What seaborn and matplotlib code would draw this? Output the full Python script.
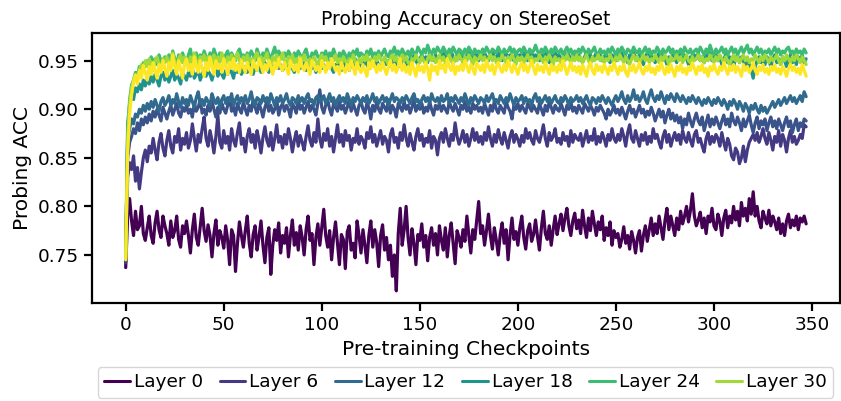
import numpy as np
import pandas as pd
import matplotlib
matplotlib.use("Agg")
import matplotlib.pyplot as plt
from matplotlib.lines import Line2D
import seaborn as sns

# Probing accuracy (in thousandths) per checkpoint
LAYERS = [0, 6, 9, 12, 18, 24, 30, 35]
LEGEND_LAYERS = [0, 6, 12, 18, 24, 30]

ACC_L0 = [
    737,
    790, 808, 785, 770, 795, 776, 780, 800, 772, 765, 778, 790, 770, 762, 783, 795, 776, 768, 790, 780,
    772, 760, 785, 768, 775, 790, 766, 758, 780, 772, 785, 770, 752, 776, 792, 768, 760, 779, 798, 775,
    764, 781, 770, 748, 772, 786, 760, 775, 768, 757, 780, 765, 740, 776, 770, 733, 762, 784, 770, 758,
    775, 790, 762, 748, 771, 780, 755, 769, 785, 760, 742, 768, 778, 730, 760, 776, 765, 783, 752, 770,
    762, 778, 748, 770, 786, 760, 773, 755, 780, 768, 750, 776, 790, 765, 772, 740, 768, 782, 760, 778,
    797, 770, 758, 775, 745, 768, 784, 762, 740, 771, 766, 736, 774, 780, 755, 762, 747, 785, 770, 752,
    776, 760, 742, 770, 785, 758, 776, 763, 738, 770, 781, 755, 768, 745, 760, 728, 750, 713, 772, 798,
    760, 776, 800, 768, 750, 777, 762, 740, 771, 765, 782, 758, 770, 744, 768, 778, 760, 772, 750, 780,
    765, 755, 778, 748, 770, 783, 762, 741, 775, 768, 758, 776, 764, 790, 770, 752, 776, 766, 785, 805,
    772, 780, 760, 775, 792, 770, 756, 778, 765, 750, 771, 783, 762, 776, 745, 770, 788, 766, 774, 760,
    778, 790, 768, 756, 775, 782, 764, 771, 786, 769, 755, 778, 795, 772, 766, 780, 760, 776, 790, 771,
    782, 792, 775, 788, 798, 780, 770, 785, 793, 777, 786, 772, 796, 780, 768, 788, 775, 795, 782, 770,
    784, 776, 790, 765, 778, 770, 784, 760, 775, 768, 772, 758, 766, 779, 762, 770, 756, 774, 765, 752,
    768, 775, 754, 770, 780, 764, 776, 788, 770, 782, 772, 790, 778, 766, 785, 798, 776, 790, 780, 770,
    788, 776, 795, 782, 790, 800, 784, 796, 813, 790, 780, 786, 794, 778, 788, 772, 790, 784, 798, 780,
    776, 792, 785, 770, 788, 796, 778, 790, 783, 800, 786, 795, 780, 804, 790, 798, 785, 808, 792, 815,
    790, 800, 785, 778, 795, 788, 782, 796, 780, 790, 784, 776, 788, 772, 782, 770, 785, 792, 778, 786,
    780, 790, 776, 788, 784, 790, 782,
]

ACC_L6 = [
    742,
    830, 845, 838, 852, 826, 840, 818, 835, 850, 858, 846, 862, 855, 870, 858, 848, 866, 875, 860, 852,
    868, 878, 862, 855, 872, 866, 880, 858, 870, 864, 876, 860, 868, 885, 870, 857, 874, 866, 880, 892,
    870, 862, 878, 868, 855, 872, 894, 866, 860, 878, 865, 872, 858, 880, 868, 862, 876, 886, 864, 870,
    856, 872, 880, 866, 874, 860, 878, 868, 855, 871, 882, 868, 862, 876, 858, 870, 884, 866, 872, 860,
    874, 864, 880, 870, 856, 868, 877, 862, 873, 866, 858, 872, 883, 868, 862, 876, 866, 890, 870, 861,
    875, 868, 880, 862, 872, 856, 870, 884, 866, 874, 862, 878, 868, 873, 858, 870, 866, 880, 864, 872,
    868, 860, 876, 870, 882, 866, 874, 862, 870, 878, 864, 872, 868, 856, 874, 880, 866, 871, 860, 876,
    868, 884, 870, 862, 875, 866, 858, 872, 880, 868, 874, 862, 870, 866, 878, 860, 872, 868, 853, 870,
    876, 866, 880, 870, 862, 874, 868, 886, 872, 864, 870, 878, 866, 874, 862, 870, 880, 868, 876, 866,
    872, 864, 876, 868, 882, 870, 862, 874, 866, 879, 870, 864, 876, 868, 860, 872, 878, 866, 874, 869,
    862, 873, 866, 880, 870, 876, 868, 864, 878, 870, 866, 874, 884, 870, 862, 876, 868, 872, 880, 866,
    870, 864, 876, 868, 872, 862, 878, 866, 874, 870, 868, 875, 862, 870, 878, 866, 872, 868, 880, 864,
    872, 866, 876, 870, 862, 874, 868, 880, 870, 866, 874, 868, 880, 872, 862, 876, 884, 870, 866, 878,
    870, 862, 874, 868, 876, 864, 872, 866, 880, 870, 874, 866, 860, 872, 878, 866, 874, 862, 870, 876,
    868, 874, 864, 878, 870, 866, 876, 868, 862, 874, 878, 866, 870, 862, 856, 870, 876, 864, 872, 866,
    874, 870, 862, 876, 866, 858, 870, 864, 852, 848, 860, 856, 844, 850, 862, 846, 858, 866, 870, 874,
    868, 876, 866, 872, 880, 870, 864, 876, 868, 858, 872, 866, 878, 862, 874, 868, 856, 870, 878, 866,
    872, 864, 868, 874, 870, 884, 882,
]

ACC_L9 = [
    745,
    850, 866, 872, 880, 875, 886, 878, 890, 884, 892, 886, 895, 888, 898, 892, 900, 894, 888, 902, 896,
    890, 898, 904, 894, 900, 906, 896, 892, 902, 898, 904, 896, 900, 892, 906, 898, 902, 910, 896, 900,
    894, 904, 898, 908, 900, 892, 902, 896, 906, 900, 896, 904, 912, 898, 902, 894, 906, 900, 896, 908,
    900, 894, 904, 898, 910, 902, 896, 906, 900, 892, 902, 908, 898, 904, 896, 900, 910, 894, 902, 906,
    898, 904, 900, 892, 906, 902, 896, 910, 900, 904, 896, 902, 908, 898, 904, 900, 894, 906, 920, 902,
    896, 904, 910, 900, 894, 906, 902, 898, 908, 900, 904, 896, 902, 910, 898, 906, 900, 894, 904, 908,
    900, 896, 906, 902, 890, 904, 898, 908, 900, 896, 906, 902, 898, 910, 896, 904, 900, 892, 906, 902,
    898, 908, 900, 904, 896, 902, 910, 898, 904, 900, 906, 896, 902, 898, 908, 900, 894, 904, 900, 906,
    898, 904, 900, 896, 908, 902, 898, 906, 900, 894, 904, 900, 908, 898, 902, 896, 906, 900, 904, 898,
    902, 896, 906, 900, 894, 904, 898, 908, 900, 896, 904, 900, 896, 908, 902, 898, 890, 904, 900, 906,
    898, 904, 900, 896, 906, 902, 898, 904, 900, 896, 906, 900, 894, 904, 898, 908, 902, 896, 904, 900,
    898, 906, 900, 894, 904, 900, 908, 898, 902, 896, 904, 900, 896, 906, 902, 898, 904, 900, 894, 902,
    898, 904, 900, 896, 890, 900, 894, 898, 904, 896, 900, 894, 902, 896, 890, 898, 904, 896, 900, 892,
    898, 904, 896, 900, 892, 898, 894, 902, 896, 888, 894, 900, 892, 898, 886, 894, 900, 890, 896, 888,
    894, 886, 892, 880, 890, 884, 896, 888, 882, 890, 896, 888, 884, 892, 878, 886, 894, 882, 890, 884,
    892, 886, 880, 888, 894, 884, 890, 882, 896, 888, 884, 892, 886, 878, 890, 882, 888, 894, 884, 876,
    886, 892, 880, 888, 884, 890, 878, 886, 892, 882, 888, 880, 890, 884, 878, 886, 892, 882, 888, 876,
    884, 890, 878, 886, 882, 890, 888,
]

ACC_L12 = [
    748,
    868, 880, 890, 885, 895, 892, 900, 896, 904, 898, 906, 900, 908, 902, 910, 904, 898, 908, 912, 904,
    908, 914, 904, 910, 906, 916, 908, 902, 912, 906, 910, 904, 914, 908, 902, 912, 918, 906, 910, 904,
    912, 908, 904, 916, 910, 906, 912, 902, 910, 914, 906, 912, 908, 916, 904, 910, 914, 906, 912, 908,
    914, 906, 910, 918, 908, 904, 912, 910, 906, 914, 908, 912, 906, 916, 910, 904, 912, 908, 914, 906,
    910, 916, 908, 904, 912, 910, 906, 914, 908, 912, 906, 912, 916, 908, 910, 904, 912, 914, 908, 910,
    914, 906, 910, 916, 908, 912, 904, 910, 914, 908, 912, 906, 916, 910, 904, 912, 908, 914, 910, 906,
    912, 908, 914, 906, 910, 916, 908, 912, 906, 910, 914, 908, 912, 904, 910, 916, 908, 912, 910, 906,
    912, 908, 914, 910, 906, 912, 916, 908, 910, 904, 910, 914, 908, 912, 906, 916, 910, 908, 912, 906,
    914, 908, 910, 916, 906, 912, 908, 914, 910, 906, 912, 908, 916, 910, 904, 912, 908, 914, 910, 906,
    912, 910, 906, 914, 908, 912, 916, 908, 910, 906, 914, 910, 906, 912, 908, 916, 910, 904, 912, 908,
    910, 914, 906, 912, 908, 910, 904, 912, 916, 908, 912, 906, 910, 914, 908, 912, 906, 910, 914, 908,
    906, 912, 908, 914, 910, 904, 912, 908, 910, 914, 908, 912, 906, 910, 914, 908, 904, 912, 910, 906,
    912, 908, 914, 910, 906, 912, 908, 904, 910, 914, 908, 912, 918, 910, 906, 914, 908, 912, 920, 910,
    914, 908, 912, 918, 910, 906, 914, 920, 912, 908, 914, 910, 918, 912, 906, 914, 910, 916, 912, 908,
    916, 912, 908, 914, 910, 906, 912, 908, 914, 910, 906, 912, 908, 904, 910, 906, 912, 908, 904, 910,
    906, 912, 908, 904, 910, 906, 900, 908, 904, 910, 906, 900, 908, 904, 898, 906, 902, 896, 904, 900,
    906, 900, 896, 904, 898, 902, 896, 900, 904, 908, 902, 906, 910, 904, 908, 912, 906, 910, 914, 908,
    912, 906, 910, 914, 908, 918, 913,
]

ACC_L18 = [
    750,
    885, 905, 915, 910, 922, 918, 926, 920, 930, 924, 932, 926, 934, 928, 936, 930, 924, 934, 938, 930,
    936, 928, 934, 940, 930, 936, 932, 926, 938, 934, 930, 938, 934, 942, 932, 936, 940, 930, 936, 942,
    934, 940, 936, 930, 938, 944, 934, 940, 936, 932, 940, 936, 944, 938, 932, 942, 938, 946, 936, 940,
    944, 938, 942, 948, 936, 944, 940, 946, 938, 942, 948, 942, 938, 946, 940, 944, 950, 942, 946, 940,
    944, 948, 940, 946, 942, 938, 946, 950, 942, 944, 948, 940, 944, 950, 942, 946, 938, 944, 948, 942,
    946, 940, 944, 950, 942, 938, 946, 944, 948, 940, 944, 950, 946, 940, 948, 944, 952, 946, 942, 948,
    944, 950, 946, 942, 948, 952, 944, 950, 946, 942, 948, 952, 946, 950, 944, 948, 954, 946, 950, 944,
    950, 954, 948, 944, 952, 948, 956, 950, 946, 952, 956, 950, 954, 948, 958, 952, 950, 956, 952, 948,
    954, 958, 950, 956, 952, 960, 954, 950, 956, 952, 958, 954, 950, 956, 960, 952, 956, 954, 958, 950,
    956, 952, 958, 954, 950, 956, 960, 954, 952, 958, 954, 950, 956, 958, 952, 956, 954, 950, 958, 954,
    956, 952, 958, 954, 950, 956, 960, 952, 956, 954, 950, 956, 952, 958, 954, 948, 956, 952, 958, 954,
    956, 950, 954, 958, 952, 956, 950, 954, 958, 952, 956, 952, 948, 954, 958, 952, 956, 950, 954, 958,
    952, 956, 950, 954, 958, 952, 948, 956, 954, 950, 956, 952, 958, 950, 954, 948, 956, 952, 958, 954,
    950, 956, 952, 946, 954, 958, 950, 956, 952, 948, 954, 958, 950, 956, 952, 946, 954, 950, 956, 952,
    948, 954, 958, 950, 956, 952, 946, 954, 950, 956, 952, 958, 950, 954, 948, 956, 952, 958, 950, 954,
    956, 950, 954, 946, 952, 956, 948, 954, 950, 944, 952, 956, 948, 954, 950, 944, 952, 946, 940, 932,
    944, 950, 954, 948, 952, 946, 954, 950, 944, 952, 956, 948, 952, 946, 954, 950, 944, 952, 956, 948,
    952, 946, 954, 950, 956, 948, 952,
]

ACC_L24 = [
    748,
    875, 910, 925, 930, 938, 934, 944, 940, 948, 944, 950, 946, 954, 948, 952, 946, 956, 950, 944, 954,
    950, 956, 948, 960, 952, 946, 956, 950, 958, 952, 948, 956, 962, 950, 954, 958, 948, 956, 952, 960,
    954, 950, 958, 952, 962, 956, 950, 958, 954, 948, 956, 960, 952, 958, 954, 950, 958, 962, 954, 956,
    952, 958, 954, 960, 956, 950, 962, 956, 952, 958, 954, 962, 956, 952, 958, 964, 954, 960, 956, 952,
    958, 954, 960, 956, 950, 958, 954, 960, 956, 952, 958, 962, 954, 950, 958, 956, 960, 954, 952, 958,
    956, 960, 952, 958, 954, 962, 956, 950, 958, 954, 960, 956, 952, 958, 954, 960, 956, 962, 954, 958,
    956, 952, 960, 956, 962, 954, 958, 956, 960, 954, 958, 962, 956, 954, 960, 958, 964, 956, 960, 954,
    962, 958, 956, 960, 954, 962, 958, 956, 964, 960, 956, 962, 958, 966, 960, 956, 962, 958, 964, 960,
    958, 964, 960, 956, 962, 958, 964, 960, 956, 962, 960, 956, 962, 958, 964, 960, 956, 962, 958, 960,
    956, 962, 958, 964, 960, 956, 962, 960, 958, 964, 960, 956, 962, 958, 960, 964, 958, 962, 956, 960,
    962, 958, 964, 960, 956, 962, 958, 960, 966, 960, 956, 962, 958, 964, 960, 956, 962, 958, 964, 960,
    958, 962, 956, 960, 964, 958, 962, 956, 960, 958, 962, 958, 964, 960, 956, 962, 958, 960, 964, 958,
    956, 962, 958, 960, 956, 962, 958, 964, 960, 956, 962, 958, 964, 960, 956, 962, 960, 958, 964, 960,
    958, 962, 956, 960, 964, 958, 962, 956, 960, 958, 964, 960, 956, 962, 958, 960, 964, 958, 962, 956,
    960, 958, 962, 956, 964, 960, 958, 962, 956, 960, 962, 958, 964, 960, 956, 962, 958, 966, 960, 956,
    962, 958, 960, 964, 958, 962, 956, 960, 964, 958, 962, 956, 960, 964, 958, 962, 966, 958, 962, 956,
    960, 964, 958, 962, 956, 960, 958, 962, 956, 960, 964, 958, 962, 956, 960, 958, 962, 964, 958, 960,
    956, 962, 958, 960, 956, 962, 958,
]

ACC_L30 = [
    746,
    870, 905, 922, 930, 936, 932, 940, 946, 942, 950, 944, 952, 946, 940, 950, 954, 946, 942, 952, 948,
    954, 946, 950, 958, 948, 944, 952, 956, 948, 954, 950, 944, 954, 948, 958, 950, 946, 954, 950, 956,
    948, 954, 950, 944, 956, 950, 954, 948, 958, 952, 946, 954, 950, 956, 948, 952, 958, 950, 946, 954,
    950, 956, 948, 952, 946, 954, 958, 950, 954, 948, 952, 958, 950, 946, 954, 950, 956, 948, 952, 958,
    950, 946, 954, 950, 956, 948, 952, 946, 954, 950, 956, 950, 944, 952, 948, 954, 950, 946, 952, 956,
    950, 954, 948, 944, 952, 950, 956, 948, 952, 946, 954, 950, 946, 952, 948, 956, 950, 944, 952, 948,
    954, 950, 956, 948, 952, 946, 954, 950, 956, 952, 948, 954, 950, 946, 952, 956, 950, 954, 948, 952,
    956, 950, 954, 948, 946, 952, 950, 956, 952, 948, 954, 950, 946, 952, 956, 950, 954, 948, 952, 956,
    950, 954, 948, 952, 956, 950, 946, 954, 950, 956, 952, 948, 954, 950, 956, 952, 946, 954, 950, 952,
    956, 950, 954, 948, 952, 956, 950, 954, 948, 952, 950, 956, 952, 948, 954, 950, 956, 952, 946, 954,
    950, 954, 948, 952, 956, 950, 954, 948, 952, 950, 956, 952, 948, 954, 950, 956, 952, 946, 954, 950,
    952, 948, 954, 950, 956, 952, 948, 954, 950, 956, 950, 954, 948, 952, 956, 950, 946, 954, 950, 952,
    956, 950, 954, 948, 952, 950, 956, 952, 948, 954, 950, 956, 952, 948, 954, 950, 946, 952, 956, 950,
    954, 948, 952, 956, 950, 954, 948, 952, 950, 956, 952, 948, 954, 950, 956, 952, 946, 954, 950, 952,
    956, 950, 954, 948, 952, 956, 950, 948, 954, 950, 952, 956, 950, 954, 948, 952, 950, 956, 952, 948,
    954, 950, 956, 952, 948, 954, 950, 946, 952, 956, 950, 954, 948, 952, 956, 950, 954, 948, 952, 950,
    956, 952, 948, 954, 950, 956, 952, 948, 954, 950, 952, 956, 950, 946, 954, 950, 956, 952, 948, 954,
    950, 956, 952, 948, 954, 950, 946,
]

ACC_L35 = [
    745,
    855, 895, 915, 928, 935, 926, 940, 932, 945, 938, 930, 944, 936, 948, 940, 932, 946, 938, 950, 942,
    934, 948, 940, 956, 944, 936, 950, 942, 932, 946, 952, 940, 946, 936, 954, 944, 938, 950, 942, 934,
    948, 940, 954, 944, 936, 950, 942, 946, 938, 952, 944, 936, 948, 942, 952, 940, 946, 938, 950, 944,
    938, 948, 942, 936, 950, 944, 940, 952, 946, 938, 946, 940, 950, 944, 936, 948, 942, 952, 944, 940,
    948, 942, 936, 950, 944, 940, 946, 938, 952, 944, 940, 948, 942, 936, 950, 946, 940, 944, 938, 950,
    944, 938, 948, 942, 952, 946, 940, 944, 936, 948, 942, 938, 946, 940, 950, 944, 936, 948, 942, 938,
    946, 940, 934, 948, 942, 950, 944, 938, 946, 940, 948, 942, 936, 944, 950, 940, 946, 938, 944, 952,
    940, 946, 938, 944, 936, 948, 942, 934, 946, 940, 944, 938, 948, 942, 930, 946, 940, 944, 936, 950,
    942, 946, 938, 952, 944, 940, 948, 936, 944, 940, 946, 940, 950, 944, 938, 946, 942, 936, 948, 944,
    940, 946, 938, 950, 944, 940, 946, 936, 944, 948, 942, 938, 946, 940, 950, 944, 938, 946, 942, 936,
    944, 948, 940, 946, 938, 944, 950, 942, 936, 946, 940, 944, 938, 948, 942, 936, 946, 940, 944, 938,
    946, 940, 950, 944, 936, 942, 948, 940, 944, 938, 944, 936, 946, 940, 934, 944, 948, 940, 936, 946,
    940, 944, 938, 946, 942, 936, 944, 940, 948, 942, 936, 944, 940, 946, 938, 934, 944, 940, 946, 938,
    942, 948, 940, 936, 944, 940, 946, 938, 942, 936, 944, 940, 948, 942, 936, 944, 938, 946, 940, 934,
    944, 940, 946, 938, 942, 936, 944, 940, 948, 942, 936, 944, 940, 946, 938, 942, 934, 944, 940, 946,
    940, 936, 944, 940, 948, 942, 936, 944, 940, 946, 938, 944, 940, 934, 946, 940, 944, 938, 942, 948,
    940, 936, 944, 940, 946, 938, 942, 936, 944, 940, 946, 938, 942, 936, 944, 940, 934, 942, 946, 940,
    944, 938, 942, 936, 946, 940, 934,
]

SERIES = [ACC_L0, ACC_L6, ACC_L9, ACC_L12, ACC_L18, ACC_L24, ACC_L30, ACC_L35]

# Long-format table for seaborn
frames = []
for layer, vals in zip(LAYERS, SERIES):
    frames.append(pd.DataFrame({
        "checkpoint": np.arange(len(vals)),
        "acc": np.array(vals) / 1000.0,
        "layer": layer,
    }))
df = pd.concat(frames, ignore_index=True)

sns.set_theme(style="ticks", context="notebook", font_scale=1.21,
              rc={"text.color": "black", "axes.labelcolor": "black",
                  "axes.edgecolor": "black", "xtick.color": "black",
                  "ytick.color": "black", "axes.linewidth": 1.6,
                  "xtick.major.width": 1.6, "ytick.major.width": 1.6})

cmap = plt.get_cmap("viridis")
palette = {layer: cmap(layer / max(LAYERS)) for layer in LAYERS}

fig = plt.figure(figsize=(8.41, 4.01), dpi=100)
ax = fig.add_axes([0.109, 0.244, 0.89, 0.674])

sns.lineplot(data=df, x="checkpoint", y="acc", hue="layer", palette=palette,
             hue_order=LAYERS, legend=False, linewidth=2.3, ax=ax)

ax.set_title("Probing Accuracy on StereoSet", fontsize=13.5)
ax.set_xlabel("Pre-training Checkpoints")
ax.set_ylabel("Probing ACC")
ax.set_xticks([0, 50, 100, 150, 200, 250, 300, 350])
ax.set_yticks([0.75, 0.80, 0.85, 0.90, 0.95])

handles = [Line2D([], [], color=palette[l], lw=2.2) for l in LEGEND_LAYERS]
labels = [f"Layer {l}" for l in LEGEND_LAYERS]
fig.legend(handles, labels, loc="upper center", bbox_to_anchor=(0.5535, 0.085),
           ncol=6, handlelength=1.4, handletextpad=0.2, columnspacing=0.9,
           borderpad=0.35, borderaxespad=0.0, frameon=True)

plt.savefig("out.png", dpi=100)
plt.close()
